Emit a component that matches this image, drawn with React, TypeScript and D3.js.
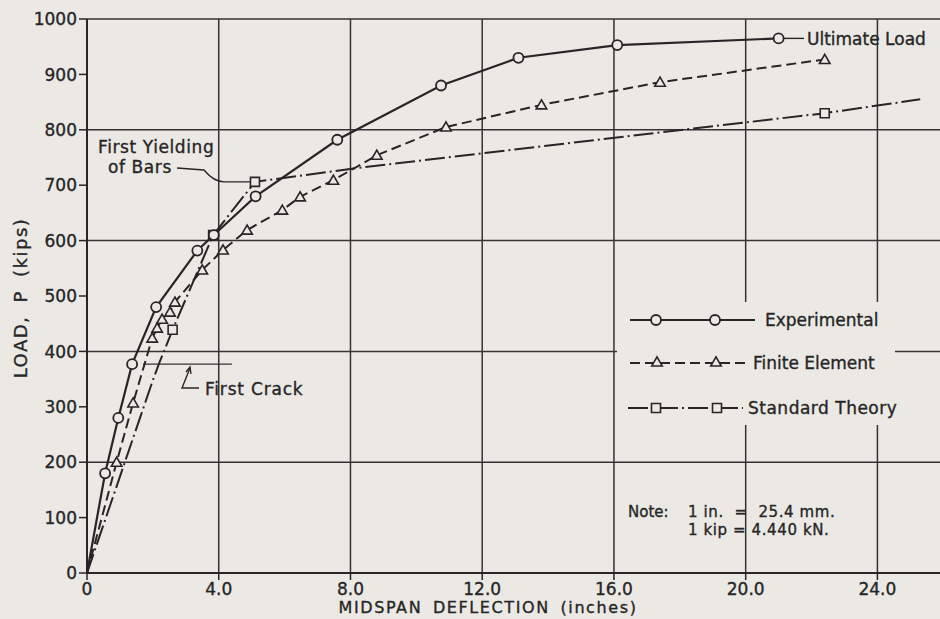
import React from "react";
import * as d3 from "d3";

// deflection (in.) / load (kips)
const expX = [0, 0.55, 0.95, 1.37, 2.1, 3.35, 3.85, 5.12, 7.6, 10.75, 13.1, 16.1, 21.0];
const expY = [0, 180, 280, 377, 480, 582, 610, 680, 782, 880, 930, 953, 965];

const feX = [0, 0.9, 1.4, 1.98, 2.13, 2.28, 2.52, 2.67, 3.5, 4.13, 4.86, 5.93, 6.47, 7.48, 8.8, 10.9, 13.8, 17.4, 22.4];
const feY = [0, 200, 307, 424, 442, 458, 471, 489, 547, 583, 619, 655, 679, 709, 754, 805, 845, 886, 927];

const stX = [0, 2.0, 2.2, 2.6, 3.83, 5.1, 8.2, 22.4, 25.3];
const stY = [0, 348, 380, 439, 610, 706, 731, 830, 855];
const stMarked = [3, 4, 5, 7];

const xTicks = [0, 4, 8, 12, 16, 20, 24];
const xTickLabels = ["0", "4.0", "8.0", "12.0", "16.0", "20.0", "24.0"];
const yTicks = d3.range(0, 1001, 100);
const yGrid = [200, 400, 600, 800, 1000];

const firstCrackLoad = 377;
const firstCrackSpan = [1.7, 4.4];

const W = 940;
const H = 619;
const BG = "#ece9e5";
const INK = "#262626";
const FONT = "DejaVu Sans, sans-serif";

export default function App() {
  const x = d3.scaleLinear().domain([0, 25.9]).range([87, 940]);
  const y = d3.scaleLinear().domain([0, 1000]).range([573, 19]);

  const line = d3
    .line<[number, number]>()
    .x((d) => x(d[0]))
    .y((d) => y(d[1]));

  const zip = (a: number[], b: number[]) => a.map((v, i) => [v, b[i]] as [number, number]);
  const exp = zip(expX, expY);
  const fe = zip(feX, feY);
  const st = zip(stX, stY);

  const tri = d3.symbol(d3.symbolTriangle, 48)();
  const sq = d3.symbol(d3.symbolSquare, 81)();

  const circle = (cx: number, cy: number, k: string) => (
    <circle key={k} cx={cx} cy={cy} r={5} fill={BG} stroke={INK} strokeWidth={1.8} />
  );
  const triangle = (cx: number, cy: number, k: string) => (
    <path key={k} d={tri!} transform={`translate(${cx},${cy + 1})`} fill={BG} stroke={INK} strokeWidth={1.6} />
  );
  const square = (cx: number, cy: number, k: string) => (
    <path key={k} d={sq!} transform={`translate(${cx},${cy})`} fill={BG} stroke={INK} strokeWidth={1.6} />
  );

  const yieldPt = st[5];
  const ultPt = exp[exp.length - 1];

  // text is a touch heavier in the original lettering
  const ink = { fill: INK, stroke: INK, strokeWidth: 0.35 };

  return (
    <svg
      width={W}
      height={H}
      style={{ position: "fixed", left: 0, top: 0, background: BG }}
      fontFamily={FONT}
    >
      <rect width={W} height={H} fill={BG} />

      {/* grid */}
      <g stroke="#333" strokeWidth={1.5}>
        {yGrid.map((v) => (
          <line key={"gy" + v} x1={x(0)} x2={W} y1={y(v)} y2={y(v)} />
        ))}
        {xTicks.slice(1).map((v) => (
          <line key={"gx" + v} x1={x(v)} x2={x(v)} y1={y(1000)} y2={y(0)} />
        ))}
      </g>

      {/* axes */}
      <g stroke={INK} strokeWidth={2}>
        <line x1={x(0)} x2={x(0)} y1={y(1000)} y2={y(0)} />
        <line x1={x(0)} x2={W} y1={y(0)} y2={y(0)} />
        {yTicks.map((v) => (
          <line key={"ty" + v} x1={x(0) - 8} x2={x(0)} y1={y(v)} y2={y(v)} strokeWidth={1.5} />
        ))}
        {xTicks.map((v) => (
          <line key={"tx" + v} x1={x(v)} x2={x(v)} y1={y(0)} y2={y(0) + 7} strokeWidth={1.5} />
        ))}
      </g>

      <g {...ink} fontSize={17}>
        {yTicks.map((v) => (
          <text key={"ly" + v} x={x(0) - 10} y={y(v)} dy="0.36em" textAnchor="end">
            {v}
          </text>
        ))}
        {xTicks.map((v, i) => (
          <text key={"lx" + v} x={x(v)} y={595} textAnchor="middle">
            {xTickLabels[i]}
          </text>
        ))}
      </g>

      <text x={488} y={613} textAnchor="middle" fontSize={16} {...ink} letterSpacing={1.6} wordSpacing={4}>
        MIDSPAN DEFLECTION (inches)
      </text>
      <text
        transform="translate(27,298) rotate(-90)"
        textAnchor="middle"
        fontSize={18}
        {...ink}
        letterSpacing={1.5}
        wordSpacing={6}
      >
        LOAD, P (kips)
      </text>

      {/* first crack marker */}
      <line
        x1={x(firstCrackSpan[0])}
        x2={x(firstCrackSpan[1])}
        y1={y(firstCrackLoad)}
        y2={y(firstCrackLoad)}
        stroke="#333"
        strokeWidth={1.3}
      />

      {/* series */}
      <path d={line(st)!} fill="none" stroke={INK} strokeWidth={2} strokeDasharray="20 4 2 4" />
      <path d={line(fe)!} fill="none" stroke={INK} strokeWidth={2} strokeDasharray="10 5" />
      <path d={line(exp)!} fill="none" stroke={INK} strokeWidth={2.2} />

      {fe.slice(1).map((d, i) => triangle(x(d[0]), y(d[1]), "fe" + i))}
      {stMarked.map((i) => square(x(st[i][0]), y(st[i][1]), "st" + i))}
      {exp.slice(1).map((d, i) => circle(x(d[0]), y(d[1]), "ex" + i))}

      {/* annotations */}
      <g {...ink} fontSize={17}>
        <text x={98} y={153} letterSpacing={0.6}>First Yielding</text>
        <text x={108} y={173} letterSpacing={0.6}>of Bars</text>
        <text x={205} y={395} letterSpacing={0.8}>First Crack</text>
        <text x={807} y={39} dy="0.36em">Ultimate Load</text>
      </g>
      <g fill="none" stroke={INK} strokeWidth={1.4}>
        <path
          d={`M177,168 L204,170 Q214,${y(yieldPt[1])} 224,${y(yieldPt[1])} L${x(yieldPt[0]) - 5},${y(yieldPt[1])}`}
        />
        <path d="M199,388 L182,388 L190,368" />
        <path d="M186,372 L190,367 L191,374" />
        <line x1={x(ultPt[0]) + 5} x2={804} y1={y(ultPt[1])} y2={y(ultPt[1])} />
      </g>

      {/* legend */}
      <rect x={617} y={302} width={278} height={123} fill={BG} />
      <g stroke={INK} strokeWidth={2} fill="none">
        <line x1={630} x2={755} y1={320} y2={320} />
        <line x1={630} x2={745} y1={363} y2={363} strokeDasharray="10 5" />
        <line x1={628} x2={743} y1={408} y2={408} strokeDasharray="20 4 2 4" />
      </g>
      {circle(656, 320, "lc1")}
      {circle(715, 320, "lc2")}
      {triangle(657, 362, "lt1")}
      {triangle(716, 362, "lt2")}
      {square(656, 408, "ls1")}
      {square(717, 408, "ls2")}
      <g {...ink} fontSize={17}>
        <text x={765} y={320} dy="0.36em">Experimental</text>
        <text x={753} y={363} dy="0.36em">Finite Element</text>
        <text x={748} y={408} dy="0.36em" letterSpacing={0.5}>Standard Theory</text>
      </g>

      {/* note */}
      <g {...ink} fontSize={15}>
        <text x={628} y={517}>Note:</text>
        <text x={688} y={517} xmlSpace="preserve" letterSpacing={0.6}>1 in.  =  25.4 mm.</text>
        <text x={688} y={535} letterSpacing={0.6}>1 kip = 4.440 kN.</text>
      </g>
    </svg>
  );
}
